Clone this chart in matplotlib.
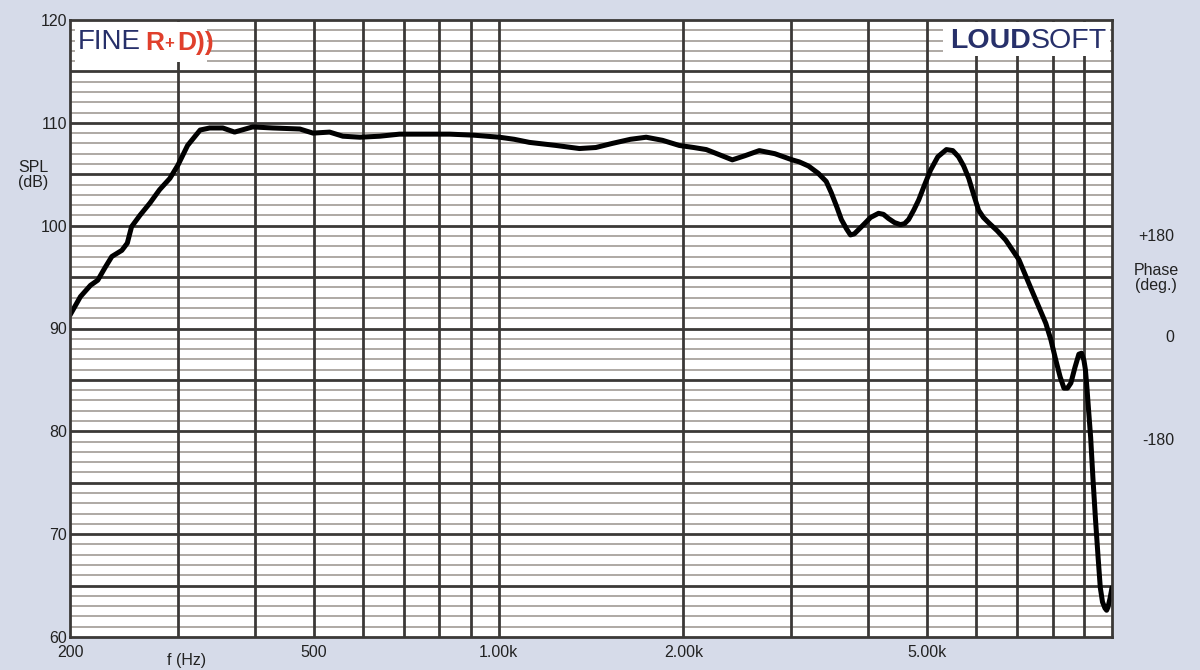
import numpy as np
import matplotlib
matplotlib.use("Agg")
import matplotlib.pyplot as plt
from matplotlib.ticker import FixedLocator, FixedFormatter, NullLocator
from matplotlib.patches import Rectangle

plt.rcParams['font.family'] = ['Liberation Sans', 'DejaVu Sans']

# frequency response (Hz, dB SPL)
freq = [200, 208, 216, 222, 228, 234, 243, 248, 252, 260, 270, 280, 291, 300, 311, 326,
        338, 355, 371, 397, 428, 474, 498, 530, 557, 594, 640, 689, 760, 832, 910,
        1003, 1060, 1122, 1240, 1354, 1440, 1532, 1640, 1740, 1850, 1970, 2080, 2180,
        2290, 2404, 2520, 2660, 2820, 3010, 3092, 3200, 3318, 3420, 3486, 3560, 3620,
        3690, 3746, 3800, 3860, 3950, 4040, 4162, 4240, 4320, 4420, 4520, 4590, 4660,
        4750, 4840, 4950, 5060, 5200, 5370, 5500, 5620, 5730, 5840, 5950, 6060, 6170,
        6290, 6500, 6710, 7050, 7400, 7800, 7950, 8100, 8230, 8350, 8460, 8570, 8700,
        8830, 8920, 9000, 9050, 9100, 9160, 9230, 9310, 9400, 9490, 9570, 9650, 9740,
        9800, 9850, 9930, 10000]
spl = [91.3, 93.1, 94.2, 94.7, 95.9, 97.0, 97.6, 98.3, 99.9, 101.0, 102.2, 103.5, 104.6,
       105.9, 107.8, 109.3, 109.5, 109.5, 109.1, 109.6, 109.5, 109.4, 109.0, 109.1,
       108.7, 108.6, 108.7, 108.9, 108.9, 108.9, 108.8, 108.6, 108.4, 108.1, 107.8,
       107.5, 107.6, 108.0, 108.4, 108.6, 108.3, 107.8, 107.6, 107.4, 106.9, 106.4,
       106.8, 107.3, 107.0, 106.4, 106.2, 105.8, 105.1, 104.3, 103.2, 101.8, 100.6,
       99.7, 99.1, 99.2, 99.6, 100.2, 100.8, 101.2, 101.1, 100.7, 100.3, 100.1, 100.2,
       100.6, 101.5, 102.5, 104.0, 105.4, 106.7, 107.4, 107.3, 106.7, 105.8, 104.6,
       103.0, 101.5, 100.8, 100.3, 99.5, 98.6, 96.7, 93.7, 90.5, 88.9, 86.9, 85.3,
       84.2, 84.2, 84.7, 86.2, 87.5, 87.6, 86.9, 86.0, 84.3, 82.0, 79.4, 75.4, 71.4,
       67.8, 64.8, 63.4, 62.8, 62.6, 62.9, 63.8, 64.8]

x_ticks = [200, 300, 400, 500, 600, 700, 800, 900, 1000, 2000, 3000, 4000, 5000,
           6000, 7000, 8000, 9000, 10000]
x_labels = ['200', '', '', '500', '', '', '', '', '1.00k', '2.00k', '', '', '5.00k',
            '', '', '', '', '']
y_ticks = [60, 70, 80, 90, 100, 110, 120]
y_labels = ['60', '70', '80', '90', '100', '110', '120']
y_major_grid = [65, 70, 75, 80, 85, 90, 95, 100, 105, 110, 115]
y_minor_grid = [v for v in range(61, 120) if v % 5 != 0]
phase_labels = ['+180', '0', '-180']
phase_pos = [98.9, 89.1, 79.1]

bg = '#d6dbe9'
grid_dark = '#3b3937'
grid_light = '#a8a29d'
navy = '#27306a'
red = '#e0402c'
txt = '#222222'
fs = 11.5

fig = plt.figure(figsize=(12, 6.7), dpi=100, facecolor=bg)
ax = fig.add_axes([70 / 1200, 33 / 670, 1042 / 1200, 617 / 670])
ax.set_facecolor('white')
ax.set_xscale('log')
ax.set_xlim(200, 10000)
ax.set_ylim(60, 120)

ax.xaxis.set_major_locator(FixedLocator(x_ticks))
ax.xaxis.set_major_formatter(FixedFormatter(x_labels))
ax.xaxis.set_minor_locator(NullLocator())
ax.yaxis.set_major_locator(FixedLocator(y_ticks))
ax.yaxis.set_major_formatter(FixedFormatter(y_labels))
ax.yaxis.set_minor_locator(NullLocator())
ax.tick_params(which='both', length=0, labelsize=fs, colors=txt)
ax.tick_params(axis='x', pad=6)
ax.tick_params(axis='y', pad=2)
for s in ax.spines.values():
    s.set_color(grid_dark)
    s.set_linewidth(2.0)
    s.set_zorder(4)

# chart paper grid: light 1 dB lines, dark 5 dB lines, dark frequency lines
for v in y_minor_grid:
    ax.axhline(v, color=grid_light, linewidth=1.3, zorder=0.3)
for v in y_major_grid:
    ax.axhline(v, color=grid_dark, linewidth=2.0, zorder=0.4)
for v in x_ticks[1:-1]:
    ax.axvline(v, color=grid_dark, linewidth=2.0, zorder=0.5)

ax.plot(freq, spl, color='black', linewidth=3.6, solid_joinstyle='round',
        solid_capstyle='round', zorder=3)

# logo boxes hiding the grid
ax.add_patch(Rectangle((0.0048, 0.932), 0.127, 0.065, transform=ax.transAxes,
                       facecolor='white', edgecolor='none', zorder=1))
ax.add_patch(Rectangle((0.838, 0.942), 0.16, 0.055, transform=ax.transAxes,
                       facecolor='white', edgecolor='none', zorder=1))

t = ax.text(0.0078, 0.964, 'FINE', transform=ax.transAxes, fontsize=20, color=navy,
            va='center', ha='left', zorder=2)
r = ax.annotate('R', xy=(1, 0), xycoords=t, xytext=(3, 0), textcoords='offset points',
                fontsize=19, color=red, fontweight='bold', va='bottom', ha='left',
                family=['Liberation Sans Narrow', 'Liberation Sans'], zorder=2)
p = ax.annotate('+', xy=(1, 0), xycoords=r, xytext=(0, 3), textcoords='offset points',
                fontsize=12, color=red, fontweight='bold', va='bottom', ha='left',
                family=['Liberation Sans Narrow', 'Liberation Sans'], zorder=2)
d = ax.annotate('D))', xy=(1, 0), xycoords=r, xytext=(9, 0), textcoords='offset points',
                fontsize=19, color=red, fontweight='bold', va='bottom', ha='left',
                family=['Liberation Sans Narrow', 'Liberation Sans'], zorder=2)

lo = ax.text(0.8445, 0.966, 'LOUD', transform=ax.transAxes, fontsize=20.5, color=navy,
             fontweight='bold', va='center', ha='left', zorder=2)
ax.annotate('SOFT', xy=(1, 0), xycoords=lo, fontsize=20.5, color=navy,
            va='bottom', ha='left', zorder=2)

# axis captions
ax.text(-0.035, 0.749, 'SPL\n(dB)', transform=ax.transAxes, fontsize=fs, color=txt,
        ha='center', va='center', linespacing=1.05)
ax.text(0.112, -0.026, 'f (Hz)', transform=ax.transAxes, fontsize=fs, color=txt,
        ha='center', va='top')
for lab, pos in zip(phase_labels, phase_pos):
    ax.text(1.0595, pos, lab, transform=ax.get_yaxis_transform(), fontsize=fs,
            color=txt, ha='right', va='center')
ax.text(1.0425, 94.9, 'Phase\n(deg.)', transform=ax.get_yaxis_transform(), fontsize=fs,
        color=txt, ha='center', va='center', linespacing=1.05)

fig.savefig('out.png', dpi=100, facecolor=bg)
